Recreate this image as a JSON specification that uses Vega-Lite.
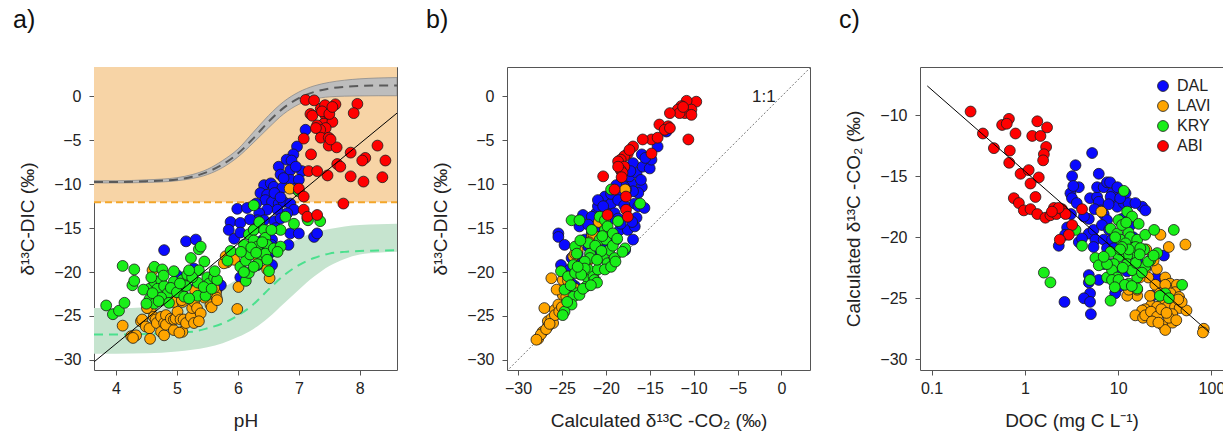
{
  "$schema": "https://vega.github.io/schema/vega-lite/v6.json",
  "padding": {"left": 12, "top": 7, "right": 0, "bottom": 0},
  "bounds": "flush",
  "spacing": 110,
  "config": {
    "font": "Liberation Sans",
    "view": {"stroke": "#555", "strokeWidth": 1},
    "title": {"font": "Liberation Sans", "fontSize": 25, "fontWeight": "normal", "anchor": "start", "frame": "group", "dx": -81, "offset": 34, "baseline": "alphabetic", "color": "#111"},
    "axis": {"grid": false, "domain": false, "labelFont": "Liberation Sans", "labelFontSize": 16, "labelColor": "#222", "titleFont": "Liberation Sans", "titleFontSize": 19, "titleFontWeight": "normal", "titleColor": "#222", "tickColor": "#555", "tickSize": 5},
    "axisX": {"labelPadding": 5, "titlePadding": 15},
    "axisY": {"labelPadding": 8, "titlePadding": 16}
  },
  "resolve": {"scale": {"color": "independent"}, "legend": {"color": "independent"}},
  "datasets": {
    "aRect": [{"x": 3.64, "x2": 8.61, "y": -12.05, "y2": 3.35}],
    "aRule": [{"x": 3.64, "x2": 8.61, "y": -12.05}],
    "grayBand": [
      {"x": 3.64, "y": -9.85, "y2": -9.6}, {"x": 4.0, "y": -9.85, "y2": -9.6}, {"x": 4.5, "y": -9.8, "y2": -9.5},
      {"x": 5.0, "y": -9.6, "y2": -9.25}, {"x": 5.25, "y": -9.35, "y2": -8.9}, {"x": 5.5, "y": -8.9, "y2": -8.3},
      {"x": 5.75, "y": -8.1, "y2": -7.3}, {"x": 6.0, "y": -6.9, "y2": -6.0}, {"x": 6.25, "y": -5.3, "y2": -4.1},
      {"x": 6.5, "y": -3.6, "y2": -2.2}, {"x": 6.75, "y": -2.0, "y2": -0.6}, {"x": 7.0, "y": -0.9, "y2": 0.5},
      {"x": 7.25, "y": -0.3, "y2": 1.2}, {"x": 7.5, "y": -0.05, "y2": 1.6}, {"x": 7.75, "y": 0.03, "y2": 1.85},
      {"x": 8.0, "y": 0.06, "y2": 2.0}, {"x": 8.3, "y": 0.08, "y2": 2.1}, {"x": 8.61, "y": 0.08, "y2": 2.15}
    ],
    "grayMid": [
      {"x": 3.64, "y": -9.75}, {"x": 4.0, "y": -9.75}, {"x": 4.5, "y": -9.65}, {"x": 5.0, "y": -9.45},
      {"x": 5.25, "y": -9.15}, {"x": 5.5, "y": -8.6}, {"x": 5.75, "y": -7.75}, {"x": 6.0, "y": -6.5},
      {"x": 6.25, "y": -4.8}, {"x": 6.5, "y": -2.9}, {"x": 6.75, "y": -1.3}, {"x": 7.0, "y": -0.2},
      {"x": 7.25, "y": 0.5}, {"x": 7.5, "y": 0.9}, {"x": 7.75, "y": 1.1}, {"x": 8.0, "y": 1.2},
      {"x": 8.3, "y": 1.25}, {"x": 8.61, "y": 1.25}
    ],
    "greenBand": [
      {"x": 3.64, "y": -29.3, "y2": -24.1}, {"x": 4.0, "y": -29.3, "y2": -24.1}, {"x": 4.5, "y": -29.25, "y2": -24.0},
      {"x": 5.0, "y": -29.05, "y2": -23.6}, {"x": 5.25, "y": -28.85, "y2": -23.2}, {"x": 5.5, "y": -28.55, "y2": -22.6},
      {"x": 5.75, "y": -28.1, "y2": -21.8}, {"x": 6.0, "y": -27.4, "y2": -20.8}, {"x": 6.25, "y": -26.5, "y2": -19.7},
      {"x": 6.5, "y": -25.2, "y2": -18.5}, {"x": 6.75, "y": -23.6, "y2": -17.2}, {"x": 7.0, "y": -22.0, "y2": -16.2},
      {"x": 7.25, "y": -20.5, "y2": -15.5}, {"x": 7.5, "y": -19.3, "y2": -15.1}, {"x": 7.75, "y": -18.5, "y2": -14.8},
      {"x": 8.0, "y": -18.0, "y2": -14.65}, {"x": 8.3, "y": -17.8, "y2": -14.55}, {"x": 8.61, "y": -17.7, "y2": -14.5}
    ],
    "greenMid": [
      {"x": 3.64, "y": -27.1}, {"x": 4.0, "y": -27.1}, {"x": 4.5, "y": -27.05}, {"x": 5.0, "y": -26.9},
      {"x": 5.25, "y": -26.8}, {"x": 5.5, "y": -26.4}, {"x": 5.75, "y": -25.85}, {"x": 6.0, "y": -24.95},
      {"x": 6.25, "y": -23.7}, {"x": 6.5, "y": -22.0}, {"x": 6.75, "y": -20.4}, {"x": 7.0, "y": -19.2},
      {"x": 7.25, "y": -18.4}, {"x": 7.5, "y": -17.9}, {"x": 7.75, "y": -17.7}, {"x": 8.0, "y": -17.6},
      {"x": 8.3, "y": -17.55}, {"x": 8.61, "y": -17.5}
    ],
    "aFit": [{"x": 3.645, "y": -30.2}, {"x": 8.61, "y": -1.9}],
    "bOne": [{"x": -31.3, "y": -31.3}, {"x": 3.3, "y": 3.3}],
    "bText": [{"x": -2.0, "y": -0.1, "t": "1:1"}],
    "cFit": [{"x": 0.09, "y": -7.6}, {"x": 95, "y": -27.8}],
    "aPts": [
      {"s":"DAL","x":7.11,"y":-3.8},{"s":"DAL","x":6.97,"y":-5.7},{"s":"DAL","x":6.91,"y":-6.6},{"s":"DAL","x":6.67,"y":-8.0},{"s":"DAL","x":6.8,"y":-7.2},{"s":"DAL","x":6.88,"y":-7.3},{"s":"DAL","x":6.7,"y":-8.9},{"s":"DAL","x":6.86,"y":-8.4},{"s":"DAL","x":7.05,"y":-8.5},{"s":"DAL","x":6.86,"y":-9.5},{"s":"DAL","x":7.0,"y":-9.5},{"s":"DAL","x":6.43,"y":-10.1},{"s":"DAL","x":6.54,"y":-9.9},{"s":"DAL","x":6.59,"y":-10.3},{"s":"DAL","x":6.73,"y":-10.4},{"s":"DAL","x":6.37,"y":-11.0},{"s":"DAL","x":6.48,"y":-11.2},{"s":"DAL","x":6.45,"y":-11.8},{"s":"DAL","x":6.56,"y":-12.0},{"s":"DAL","x":6.67,"y":-12.2},{"s":"DAL","x":6.75,"y":-12.0},{"s":"DAL","x":6.86,"y":-12.2},{"s":"DAL","x":6.92,"y":-12.9},{"s":"DAL","x":6.81,"y":-13.3},{"s":"DAL","x":6.65,"y":-12.9},{"s":"DAL","x":6.48,"y":-12.9},{"s":"DAL","x":6.35,"y":-13.3},{"s":"DAL","x":6.43,"y":-14.1},{"s":"DAL","x":6.32,"y":-14.1},{"s":"DAL","x":6.6,"y":-14.2},{"s":"DAL","x":6.7,"y":-13.9},{"s":"DAL","x":5.99,"y":-12.8},{"s":"DAL","x":6.15,"y":-12.7},{"s":"DAL","x":5.88,"y":-14.3},{"s":"DAL","x":6.04,"y":-14.4},{"s":"DAL","x":5.85,"y":-15.2},{"s":"DAL","x":5.94,"y":-16.2},{"s":"DAL","x":6.04,"y":-15.5},{"s":"DAL","x":6.48,"y":-15.5},{"s":"DAL","x":6.56,"y":-16.3},{"s":"DAL","x":6.26,"y":-15.2},{"s":"DAL","x":6.86,"y":-15.6},{"s":"DAL","x":7.0,"y":-15.6},{"s":"DAL","x":7.25,"y":-16.0},{"s":"DAL","x":7.3,"y":-15.6},{"s":"DAL","x":6.83,"y":-16.9},{"s":"DAL","x":4.79,"y":-17.5},{"s":"DAL","x":5.15,"y":-16.5},{"s":"DAL","x":5.31,"y":-16.3},{"s":"DAL","x":5.28,"y":-19.6},{"s":"DAL","x":6.56,"y":-19.2},{"s":"DAL","x":6.04,"y":-20.6},{"s":"DAL","x":5.01,"y":-20.4},{"s":"DAL","x":5.09,"y":-22.6},{"s":"DAL","x":5.65,"y":-22.0},{"s":"DAL","x":6.32,"y":-19.2},{"s":"DAL","x":6.26,"y":-17.5},{"s":"DAL","x":5.31,"y":-21.8},{"s":"DAL","x":5.72,"y":-21.5},{"s":"DAL","x":6.5,"y":-18.0},{"s":"DAL","x":6.55,"y":-16.9},{"s":"DAL","x":6.6,"y":-11.0},{"s":"DAL","x":6.3,"y":-12.2},{"s":"DAL","x":6.7,"y":-11.5},{"s":"DAL","x":6.95,"y":-10.5},{"s":"DAL","x":6.62,"y":-15.0},{"s":"DAL","x":6.42,"y":-17.0},{"s":"DAL","x":6.15,"y":-17.6},{"s":"DAL","x":6.2,"y":-14.0},{"s":"DAL","x":6.6,"y":-17.6},{"s":"DAL","x":5.6,"y":-20.8},{"s":"DAL","x":6.95,"y":-8.0},{"s":"DAL","x":6.75,"y":-9.3},{"s":"DAL","x":6.4,"y":-16.4},
      {"s":"LAVI","x":4.11,"y":-26.1},{"s":"LAVI","x":4.25,"y":-27.3},{"s":"LAVI","x":4.33,"y":-27.2},{"s":"LAVI","x":4.28,"y":-27.5},{"s":"LAVI","x":4.41,"y":-25.6},{"s":"LAVI","x":4.43,"y":-25.4},{"s":"LAVI","x":4.49,"y":-26.2},{"s":"LAVI","x":4.55,"y":-26.4},{"s":"LAVI","x":4.56,"y":-27.6},{"s":"LAVI","x":4.52,"y":-24.1},{"s":"LAVI","x":4.57,"y":-24.2},{"s":"LAVI","x":4.62,"y":-25.1},{"s":"LAVI","x":4.65,"y":-25.4},{"s":"LAVI","x":4.67,"y":-25.8},{"s":"LAVI","x":4.74,"y":-25.1},{"s":"LAVI","x":4.74,"y":-26.8},{"s":"LAVI","x":4.79,"y":-25.8},{"s":"LAVI","x":4.79,"y":-27.2},{"s":"LAVI","x":4.82,"y":-24.9},{"s":"LAVI","x":4.82,"y":-26.0},{"s":"LAVI","x":4.9,"y":-25.3},{"s":"LAVI","x":4.95,"y":-26.6},{"s":"LAVI","x":4.95,"y":-25.4},{"s":"LAVI","x":4.98,"y":-25.3},{"s":"LAVI","x":5.01,"y":-24.5},{"s":"LAVI","x":5.06,"y":-25.4},{"s":"LAVI","x":5.09,"y":-26.8},{"s":"LAVI","x":5.04,"y":-26.9},{"s":"LAVI","x":5.11,"y":-25.4},{"s":"LAVI","x":5.15,"y":-25.8},{"s":"LAVI","x":5.23,"y":-25.1},{"s":"LAVI","x":5.25,"y":-24.1},{"s":"LAVI","x":5.28,"y":-25.8},{"s":"LAVI","x":5.28,"y":-23.4},{"s":"LAVI","x":5.33,"y":-24.1},{"s":"LAVI","x":5.39,"y":-24.7},{"s":"LAVI","x":5.36,"y":-25.6},{"s":"LAVI","x":5.55,"y":-23.7},{"s":"LAVI","x":5.57,"y":-24.0},{"s":"LAVI","x":5.64,"y":-22.4},{"s":"LAVI","x":5.65,"y":-22.9},{"s":"LAVI","x":5.66,"y":-23.2},{"s":"LAVI","x":5.61,"y":-21.8},{"s":"LAVI","x":4.74,"y":-23.2},{"s":"LAVI","x":4.85,"y":-23.2},{"s":"LAVI","x":4.95,"y":-23.4},{"s":"LAVI","x":5.09,"y":-23.4},{"s":"LAVI","x":5.08,"y":-23.2},{"s":"LAVI","x":4.62,"y":-23.2},{"s":"LAVI","x":4.51,"y":-24.1},{"s":"LAVI","x":5.99,"y":-24.2},{"s":"LAVI","x":6.01,"y":-21.7},{"s":"LAVI","x":5.82,"y":-18.9},{"s":"LAVI","x":5.94,"y":-18.6},{"s":"LAVI","x":5.77,"y":-19.0},{"s":"LAVI","x":5.8,"y":-18.2},{"s":"LAVI","x":6.48,"y":-19.7},{"s":"LAVI","x":6.43,"y":-18.2},{"s":"LAVI","x":6.85,"y":-10.5},{"s":"LAVI","x":6.52,"y":-20.7},{"s":"LAVI","x":6.33,"y":-18.4},{"s":"LAVI","x":5.45,"y":-22.9},{"s":"LAVI","x":5.5,"y":-22.4},{"s":"LAVI","x":5.3,"y":-22.1},{"s":"LAVI","x":5.2,"y":-20.6},{"s":"LAVI","x":4.6,"y":-19.8},
      {"s":"KRY","x":3.84,"y":-23.8},{"s":"KRY","x":3.95,"y":-24.8},{"s":"KRY","x":4.05,"y":-24.4},{"s":"KRY","x":4.14,"y":-23.5},{"s":"KRY","x":4.11,"y":-19.3},{"s":"KRY","x":4.3,"y":-19.7},{"s":"KRY","x":4.27,"y":-21.5},{"s":"KRY","x":4.3,"y":-21.0},{"s":"KRY","x":4.55,"y":-21.9},{"s":"KRY","x":4.55,"y":-23.1},{"s":"KRY","x":4.63,"y":-23.6},{"s":"KRY","x":4.63,"y":-19.4},{"s":"KRY","x":4.76,"y":-19.7},{"s":"KRY","x":4.63,"y":-21.1},{"s":"KRY","x":4.74,"y":-20.9},{"s":"KRY","x":4.68,"y":-21.9},{"s":"KRY","x":4.79,"y":-21.6},{"s":"KRY","x":4.85,"y":-22.4},{"s":"KRY","x":4.74,"y":-22.9},{"s":"KRY","x":4.87,"y":-23.5},{"s":"KRY","x":4.95,"y":-21.1},{"s":"KRY","x":4.9,"y":-21.8},{"s":"KRY","x":5.09,"y":-20.9},{"s":"KRY","x":5.17,"y":-20.3},{"s":"KRY","x":5.06,"y":-22.0},{"s":"KRY","x":5.15,"y":-21.6},{"s":"KRY","x":5.23,"y":-18.4},{"s":"KRY","x":5.36,"y":-17.4},{"s":"KRY","x":5.39,"y":-17.1},{"s":"KRY","x":5.45,"y":-18.8},{"s":"KRY","x":5.36,"y":-19.8},{"s":"KRY","x":5.34,"y":-21.2},{"s":"KRY","x":5.34,"y":-22.7},{"s":"KRY","x":5.47,"y":-22.7},{"s":"KRY","x":5.5,"y":-20.6},{"s":"KRY","x":5.53,"y":-21.3},{"s":"KRY","x":5.61,"y":-20.6},{"s":"KRY","x":5.66,"y":-20.9},{"s":"KRY","x":5.25,"y":-20.6},{"s":"KRY","x":5.2,"y":-19.8},{"s":"KRY","x":5.83,"y":-18.7},{"s":"KRY","x":5.88,"y":-17.6},{"s":"KRY","x":6.04,"y":-19.4},{"s":"KRY","x":6.13,"y":-21.0},{"s":"KRY","x":6.18,"y":-20.1},{"s":"KRY","x":6.13,"y":-18.7},{"s":"KRY","x":6.1,"y":-16.9},{"s":"KRY","x":6.18,"y":-15.7},{"s":"KRY","x":6.26,"y":-12.4},{"s":"KRY","x":6.26,"y":-15.2},{"s":"KRY","x":6.26,"y":-16.4},{"s":"KRY","x":6.35,"y":-14.3},{"s":"KRY","x":6.32,"y":-17.1},{"s":"KRY","x":6.37,"y":-18.0},{"s":"KRY","x":6.43,"y":-15.2},{"s":"KRY","x":6.45,"y":-16.1},{"s":"KRY","x":6.48,"y":-16.9},{"s":"KRY","x":6.45,"y":-17.9},{"s":"KRY","x":6.48,"y":-18.6},{"s":"KRY","x":6.32,"y":-19.1},{"s":"KRY","x":6.26,"y":-19.4},{"s":"KRY","x":6.51,"y":-19.9},{"s":"KRY","x":6.59,"y":-17.3},{"s":"KRY","x":6.7,"y":-15.2},{"s":"KRY","x":6.78,"y":-13.7},{"s":"KRY","x":6.7,"y":-17.1},{"s":"KRY","x":6.92,"y":-14.5},{"s":"KRY","x":7.14,"y":-13.9},{"s":"KRY","x":7.35,"y":-14.2},{"s":"KRY","x":7.0,"y":-10.8},{"s":"KRY","x":7.15,"y":-14.1},{"s":"KRY","x":4.45,"y":-22.0},{"s":"KRY","x":4.6,"y":-22.4},{"s":"KRY","x":4.7,"y":-23.3},{"s":"KRY","x":4.78,"y":-20.4},{"s":"KRY","x":5.0,"y":-22.3},{"s":"KRY","x":5.12,"y":-22.8},{"s":"KRY","x":5.2,"y":-23.0},{"s":"KRY","x":5.44,"y":-21.7},{"s":"KRY","x":5.57,"y":-21.9},{"s":"KRY","x":5.62,"y":-19.9},{"s":"KRY","x":4.95,"y":-19.9},{"s":"KRY","x":4.5,"y":-23.6},{"s":"KRY","x":4.58,"y":-20.6},{"s":"KRY","x":5.05,"y":-21.3},{"s":"KRY","x":6.2,"y":-18.0},{"s":"KRY","x":6.1,"y":-20.0},{"s":"KRY","x":6.05,"y":-17.7},{"s":"KRY","x":6.65,"y":-17.7},{"s":"KRY","x":6.4,"y":-16.6},{"s":"KRY","x":6.55,"y":-15.2},{"s":"KRY","x":6.22,"y":-17.2},{"s":"KRY","x":6.3,"y":-17.8},
      {"s":"ABI","x":7.11,"y":-0.4},{"s":"ABI","x":7.25,"y":-0.45},{"s":"ABI","x":7.36,"y":-1.4},{"s":"ABI","x":7.43,"y":-1.0},{"s":"ABI","x":7.6,"y":-0.9},{"s":"ABI","x":7.96,"y":-0.85},{"s":"ABI","x":7.9,"y":-1.9},{"s":"ABI","x":7.19,"y":-2.0},{"s":"ABI","x":7.22,"y":-2.2},{"s":"ABI","x":7.44,"y":-2.2},{"s":"ABI","x":7.49,"y":-2.8},{"s":"ABI","x":7.41,"y":-3.1},{"s":"ABI","x":7.55,"y":-2.9},{"s":"ABI","x":7.3,"y":-3.3},{"s":"ABI","x":7.44,"y":-3.6},{"s":"ABI","x":7.35,"y":-3.8},{"s":"ABI","x":7.28,"y":-3.6},{"s":"ABI","x":7.36,"y":-4.7},{"s":"ABI","x":7.49,"y":-4.7},{"s":"ABI","x":7.08,"y":-4.8},{"s":"ABI","x":7.49,"y":-5.6},{"s":"ABI","x":7.62,"y":-5.8},{"s":"ABI","x":7.2,"y":-6.6},{"s":"ABI","x":7.16,"y":-8.5},{"s":"ABI","x":7.3,"y":-8.5},{"s":"ABI","x":7.47,"y":-9.0},{"s":"ABI","x":7.63,"y":-7.7},{"s":"ABI","x":7.68,"y":-8.0},{"s":"ABI","x":7.85,"y":-6.4},{"s":"ABI","x":8.09,"y":-7.0},{"s":"ABI","x":8.04,"y":-7.3},{"s":"ABI","x":8.29,"y":-5.6},{"s":"ABI","x":8.42,"y":-7.3},{"s":"ABI","x":7.85,"y":-9.1},{"s":"ABI","x":8.06,"y":-9.7},{"s":"ABI","x":8.37,"y":-9.2},{"s":"ABI","x":7.0,"y":-10.5},{"s":"ABI","x":7.08,"y":-11.4},{"s":"ABI","x":7.73,"y":-12.2},{"s":"ABI","x":7.08,"y":-12.9},{"s":"ABI","x":7.14,"y":-13.7},{"s":"ABI","x":7.3,"y":-13.5},{"s":"ABI","x":7.52,"y":-4.9},{"s":"ABI","x":7.38,"y":-1.7},{"s":"ABI","x":7.5,"y":-2.0},{"s":"ABI","x":7.55,"y":-1.2}
    ],
    "bPts": [
      {"s":"DAL","x":-25.4,"y":-15.6},{"s":"DAL","x":-25.4,"y":-16.0},{"s":"DAL","x":-24.7,"y":-16.9},{"s":"DAL","x":-23.9,"y":-18.4},{"s":"DAL","x":-25.1,"y":-19.2},{"s":"DAL","x":-24.1,"y":-19.7},{"s":"DAL","x":-23.5,"y":-21.6},{"s":"DAL","x":-22.6,"y":-13.5},{"s":"DAL","x":-23.2,"y":-14.2},{"s":"DAL","x":-23.0,"y":-14.8},{"s":"DAL","x":-22.4,"y":-16.3},{"s":"DAL","x":-21.6,"y":-15.6},{"s":"DAL","x":-21.1,"y":-13.3},{"s":"DAL","x":-20.9,"y":-12.5},{"s":"DAL","x":-20.1,"y":-11.4},{"s":"DAL","x":-19.9,"y":-12.5},{"s":"DAL","x":-19.4,"y":-12.2},{"s":"DAL","x":-19.0,"y":-13.3},{"s":"DAL","x":-19.8,"y":-13.7},{"s":"DAL","x":-20.5,"y":-14.8},{"s":"DAL","x":-18.6,"y":-13.9},{"s":"DAL","x":-18.4,"y":-15.2},{"s":"DAL","x":-19.4,"y":-16.3},{"s":"DAL","x":-18.8,"y":-16.3},{"s":"DAL","x":-17.8,"y":-17.5},{"s":"DAL","x":-17.5,"y":-15.2},{"s":"DAL","x":-16.7,"y":-14.8},{"s":"DAL","x":-16.9,"y":-16.3},{"s":"DAL","x":-16.7,"y":-12.2},{"s":"DAL","x":-16.3,"y":-12.5},{"s":"DAL","x":-15.6,"y":-12.7},{"s":"DAL","x":-15.9,"y":-10.3},{"s":"DAL","x":-16.3,"y":-11.0},{"s":"DAL","x":-17.1,"y":-9.9},{"s":"DAL","x":-16.9,"y":-10.8},{"s":"DAL","x":-17.3,"y":-9.1},{"s":"DAL","x":-16.5,"y":-8.7},{"s":"DAL","x":-16.9,"y":-7.6},{"s":"DAL","x":-15.9,"y":-6.6},{"s":"DAL","x":-15.8,"y":-8.0},{"s":"DAL","x":-15.0,"y":-8.2},{"s":"DAL","x":-14.8,"y":-7.2},{"s":"DAL","x":-14.1,"y":-5.7},{"s":"DAL","x":-13.1,"y":-4.0},{"s":"DAL","x":-18.2,"y":-9.7},{"s":"DAL","x":-17.9,"y":-10.3},{"s":"DAL","x":-17.7,"y":-10.6},{"s":"DAL","x":-18.6,"y":-11.0},{"s":"DAL","x":-19.4,"y":-11.1},{"s":"DAL","x":-18.6,"y":-11.8},{"s":"DAL","x":-17.9,"y":-12.4},{"s":"DAL","x":-20.9,"y":-11.8},{"s":"DAL","x":-20.3,"y":-12.5},{"s":"DAL","x":-21.6,"y":-13.7},{"s":"DAL","x":-21.3,"y":-15.2},{"s":"DAL","x":-20.9,"y":-16.0},{"s":"DAL","x":-22.0,"y":-17.1},{"s":"DAL","x":-23.2,"y":-17.9},{"s":"DAL","x":-23.9,"y":-21.3},{"s":"DAL","x":-22.7,"y":-19.0},{"s":"DAL","x":-21.5,"y":-18.0},{"s":"DAL","x":-20.0,"y":-17.3},{"s":"DAL","x":-18.3,"y":-14.5},{"s":"DAL","x":-16.5,"y":-13.8},{"s":"DAL","x":-17.0,"y":-14.3},{"s":"DAL","x":-22.0,"y":-14.6},{"s":"DAL","x":-19.6,"y":-14.0},{"s":"DAL","x":-17.2,"y":-8.5},{"s":"DAL","x":-16.0,"y":-9.5},{"s":"DAL","x":-15.5,"y":-7.0},{"s":"DAL","x":-18.8,"y":-10.1},{"s":"DAL","x":-21.2,"y":-17.2},{"s":"DAL","x":-24.5,"y":-20.5},
      {"s":"LAVI","x":-27.7,"y":-27.6},{"s":"LAVI","x":-27.2,"y":-26.8},{"s":"LAVI","x":-27.4,"y":-27.1},{"s":"LAVI","x":-26.6,"y":-25.6},{"s":"LAVI","x":-26.2,"y":-25.3},{"s":"LAVI","x":-27.0,"y":-24.1},{"s":"LAVI","x":-26.2,"y":-20.7},{"s":"LAVI","x":-25.8,"y":-24.3},{"s":"LAVI","x":-25.4,"y":-23.7},{"s":"LAVI","x":-24.9,"y":-22.6},{"s":"LAVI","x":-24.7,"y":-21.8},{"s":"LAVI","x":-24.9,"y":-20.9},{"s":"LAVI","x":-24.3,"y":-20.5},{"s":"LAVI","x":-24.1,"y":-23.2},{"s":"LAVI","x":-23.5,"y":-21.9},{"s":"LAVI","x":-24.3,"y":-21.0},{"s":"LAVI","x":-23.7,"y":-18.2},{"s":"LAVI","x":-23.5,"y":-17.9},{"s":"LAVI","x":-23.2,"y":-17.5},{"s":"LAVI","x":-21.6,"y":-16.0},{"s":"LAVI","x":-21.4,"y":-15.8},{"s":"LAVI","x":-17.8,"y":-10.6},{"s":"LAVI","x":-26.6,"y":-26.2},{"s":"LAVI","x":-26.0,"y":-25.8},{"s":"LAVI","x":-25.8,"y":-24.9},{"s":"LAVI","x":-25.3,"y":-24.5},{"s":"LAVI","x":-22.0,"y":-18.7},{"s":"LAVI","x":-25.6,"y":-22.0},{"s":"LAVI","x":-26.8,"y":-26.5},{"s":"LAVI","x":-25.0,"y":-24.0},{"s":"LAVI","x":-24.5,"y":-22.8},{"s":"LAVI","x":-23.0,"y":-20.2},{"s":"LAVI","x":-22.5,"y":-19.0},{"s":"LAVI","x":-27.9,"y":-27.7},{"s":"LAVI","x":-26.4,"y":-25.9},{"s":"LAVI","x":-21.9,"y":-16.6},{"s":"LAVI","x":-20.8,"y":-14.3},
      {"s":"KRY","x":-25.1,"y":-19.9},{"s":"KRY","x":-24.7,"y":-22.0},{"s":"KRY","x":-23.9,"y":-14.1},{"s":"KRY","x":-23.0,"y":-14.1},{"s":"KRY","x":-23.5,"y":-17.1},{"s":"KRY","x":-23.3,"y":-17.9},{"s":"KRY","x":-23.7,"y":-19.2},{"s":"KRY","x":-24.3,"y":-20.5},{"s":"KRY","x":-23.5,"y":-20.1},{"s":"KRY","x":-23.4,"y":-22.4},{"s":"KRY","x":-23.7,"y":-22.8},{"s":"KRY","x":-23.0,"y":-22.6},{"s":"KRY","x":-23.9,"y":-23.7},{"s":"KRY","x":-24.7,"y":-24.5},{"s":"KRY","x":-24.9,"y":-24.9},{"s":"KRY","x":-22.2,"y":-21.6},{"s":"KRY","x":-22.2,"y":-20.5},{"s":"KRY","x":-22.0,"y":-16.7},{"s":"KRY","x":-21.8,"y":-17.9},{"s":"KRY","x":-21.6,"y":-15.2},{"s":"KRY","x":-21.8,"y":-18.4},{"s":"KRY","x":-22.0,"y":-19.7},{"s":"KRY","x":-21.4,"y":-20.5},{"s":"KRY","x":-21.3,"y":-20.9},{"s":"KRY","x":-21.0,"y":-21.2},{"s":"KRY","x":-20.9,"y":-19.7},{"s":"KRY","x":-20.7,"y":-16.3},{"s":"KRY","x":-20.7,"y":-13.7},{"s":"KRY","x":-20.1,"y":-15.2},{"s":"KRY","x":-20.1,"y":-14.1},{"s":"KRY","x":-19.8,"y":-14.8},{"s":"KRY","x":-20.0,"y":-16.3},{"s":"KRY","x":-19.6,"y":-17.5},{"s":"KRY","x":-20.3,"y":-18.4},{"s":"KRY","x":-19.8,"y":-19.0},{"s":"KRY","x":-20.1,"y":-19.7},{"s":"KRY","x":-19.4,"y":-19.4},{"s":"KRY","x":-19.0,"y":-18.4},{"s":"KRY","x":-19.2,"y":-15.6},{"s":"KRY","x":-18.6,"y":-14.2},{"s":"KRY","x":-17.8,"y":-17.3},{"s":"KRY","x":-16.1,"y":-12.2},{"s":"KRY","x":-19.4,"y":-10.6},{"s":"KRY","x":-18.1,"y":-17.7},{"s":"KRY","x":-22.4,"y":-18.8},{"s":"KRY","x":-22.4,"y":-19.6},{"s":"KRY","x":-22.6,"y":-21.9},{"s":"KRY","x":-21.7,"y":-21.5},{"s":"KRY","x":-22.9,"y":-16.4},{"s":"KRY","x":-21.2,"y":-17.0},{"s":"KRY","x":-24.4,"y":-23.4},{"s":"KRY","x":-20.5,"y":-17.6},{"s":"KRY","x":-19.2,"y":-17.0},{"s":"KRY","x":-18.7,"y":-16.2},{"s":"KRY","x":-21.0,"y":-18.6},{"s":"KRY","x":-22.8,"y":-20.3},{"s":"KRY","x":-23.2,"y":-19.4},{"s":"KRY","x":-24.0,"y":-21.5},{"s":"KRY","x":-20.4,"y":-15.9},{"s":"KRY","x":-18.9,"y":-18.8},
      {"s":"ABI","x":-9.7,"y":-0.6},{"s":"ABI","x":-10.8,"y":-0.5},{"s":"ABI","x":-10.25,"y":-1.5},{"s":"ABI","x":-11.4,"y":-1.1},{"s":"ABI","x":-11.8,"y":-1.5},{"s":"ABI","x":-11.0,"y":-1.9},{"s":"ABI","x":-11.6,"y":-1.9},{"s":"ABI","x":-12.7,"y":-1.9},{"s":"ABI","x":-10.25,"y":-2.1},{"s":"ABI","x":-11.2,"y":-1.2},{"s":"ABI","x":-13.9,"y":-3.2},{"s":"ABI","x":-12.9,"y":-3.4},{"s":"ABI","x":-13.3,"y":-3.8},{"s":"ABI","x":-12.7,"y":-3.6},{"s":"ABI","x":-10.6,"y":-4.9},{"s":"ABI","x":-14.8,"y":-4.9},{"s":"ABI","x":-14.1,"y":-4.7},{"s":"ABI","x":-15.8,"y":-4.9},{"s":"ABI","x":-14.8,"y":-6.5},{"s":"ABI","x":-16.9,"y":-5.7},{"s":"ABI","x":-17.5,"y":-6.5},{"s":"ABI","x":-17.9,"y":-6.8},{"s":"ABI","x":-18.3,"y":-7.2},{"s":"ABI","x":-18.6,"y":-7.4},{"s":"ABI","x":-17.9,"y":-8.0},{"s":"ABI","x":-18.3,"y":-8.4},{"s":"ABI","x":-20.3,"y":-9.1},{"s":"ABI","x":-19.0,"y":-10.6},{"s":"ABI","x":-17.7,"y":-11.4},{"s":"ABI","x":-17.7,"y":-12.9},{"s":"ABI","x":-17.5,"y":-13.7},{"s":"ABI","x":-19.8,"y":-13.5},{"s":"ABI","x":-18.1,"y":-8.7},{"s":"ABI","x":-18.6,"y":-8.0},{"s":"ABI","x":-18.2,"y":-9.2},{"s":"ABI","x":-17.3,"y":-6.1}
    ],
    "cPts": [
      {"s":"DAL","x":5.26,"y":-13.1},{"s":"DAL","x":3.49,"y":-14.1},{"s":"DAL","x":3.21,"y":-15.0},{"s":"DAL","x":3.79,"y":-15.9},{"s":"DAL","x":3.08,"y":-16.4},{"s":"DAL","x":3.2,"y":-16.8},{"s":"DAL","x":3.6,"y":-17.2},{"s":"DAL","x":3.12,"y":-18.1},{"s":"DAL","x":3.29,"y":-19.2},{"s":"DAL","x":2.84,"y":-19.2},{"s":"DAL","x":2.31,"y":-20.7},{"s":"DAL","x":2.7,"y":-19.8},{"s":"DAL","x":3.79,"y":-20.4},{"s":"DAL","x":4.85,"y":-19.7},{"s":"DAL","x":5.45,"y":-19.4},{"s":"DAL","x":4.85,"y":-18.5},{"s":"DAL","x":5.0,"y":-16.8},{"s":"DAL","x":5.95,"y":-16.7},{"s":"DAL","x":6.2,"y":-17.1},{"s":"DAL","x":5.95,"y":-15.9},{"s":"DAL","x":6.2,"y":-14.8},{"s":"DAL","x":7.0,"y":-15.9},{"s":"DAL","x":7.6,"y":-15.5},{"s":"DAL","x":8.6,"y":-16.4},{"s":"DAL","x":8.2,"y":-15.5},{"s":"DAL","x":9.3,"y":-17.0},{"s":"DAL","x":9.8,"y":-17.5},{"s":"DAL","x":11.5,"y":-17.2},{"s":"DAL","x":12.0,"y":-16.4},{"s":"DAL","x":12.9,"y":-17.2},{"s":"DAL","x":9.8,"y":-15.9},{"s":"DAL","x":8.3,"y":-16.7},{"s":"DAL","x":7.0,"y":-18.1},{"s":"DAL","x":7.6,"y":-18.6},{"s":"DAL","x":6.7,"y":-19.0},{"s":"DAL","x":5.7,"y":-20.2},{"s":"DAL","x":7.0,"y":-20.2},{"s":"DAL","x":5.45,"y":-20.8},{"s":"DAL","x":7.6,"y":-20.9},{"s":"DAL","x":8.6,"y":-20.2},{"s":"DAL","x":9.0,"y":-20.9},{"s":"DAL","x":10.1,"y":-21.6},{"s":"DAL","x":7.0,"y":-22.2},{"s":"DAL","x":8.3,"y":-22.2},{"s":"DAL","x":6.2,"y":-23.5},{"s":"DAL","x":4.85,"y":-23.1},{"s":"DAL","x":4.85,"y":-23.7},{"s":"DAL","x":5.0,"y":-24.6},{"s":"DAL","x":4.3,"y":-25.0},{"s":"DAL","x":5.0,"y":-25.3},{"s":"DAL","x":5.1,"y":-26.3},{"s":"DAL","x":2.66,"y":-25.3},{"s":"DAL","x":18.1,"y":-17.5},{"s":"DAL","x":19.6,"y":-17.8},{"s":"DAL","x":15.3,"y":-17.2},{"s":"DAL","x":30.9,"y":-21.5},{"s":"DAL","x":13.5,"y":-20.8},{"s":"DAL","x":23.1,"y":-24.8},{"s":"DAL","x":32,"y":-23.7},{"s":"DAL","x":10.1,"y":-24.1},{"s":"DAL","x":12.5,"y":-22.8},{"s":"DAL","x":9.3,"y":-24.6},{"s":"DAL","x":4.3,"y":-18.3},{"s":"DAL","x":4.1,"y":-20.1},{"s":"DAL","x":6.5,"y":-17.8},{"s":"DAL","x":11.0,"y":-18.5},{"s":"DAL","x":13.6,"y":-19.0},{"s":"DAL","x":8.0,"y":-19.4},{"s":"DAL","x":14.5,"y":-20.0},{"s":"DAL","x":16.0,"y":-21.9},{"s":"DAL","x":25.8,"y":-23.3},{"s":"DAL","x":9.5,"y":-23.1},{"s":"DAL","x":5.6,"y":-17.7},{"s":"DAL","x":10.5,"y":-16.8},{"s":"DAL","x":7.9,"y":-17.3},{"s":"DAL","x":3.3,"y":-15.8},
      {"s":"LAVI","x":6.6,"y":-17.9},{"s":"LAVI","x":28.4,"y":-19.8},{"s":"LAVI","x":34.9,"y":-20.8},{"s":"LAVI","x":52.6,"y":-20.6},{"s":"LAVI","x":19.5,"y":-22.6},{"s":"LAVI","x":21,"y":-23.3},{"s":"LAVI","x":32,"y":-23.3},{"s":"LAVI","x":36,"y":-23.8},{"s":"LAVI","x":42.6,"y":-23.9},{"s":"LAVI","x":40.7,"y":-24.5},{"s":"LAVI","x":36.4,"y":-24.6},{"s":"LAVI","x":30,"y":-25.3},{"s":"LAVI","x":33.5,"y":-25.7},{"s":"LAVI","x":40.7,"y":-25.7},{"s":"LAVI","x":45.6,"y":-25.8},{"s":"LAVI","x":54,"y":-26.0},{"s":"LAVI","x":22.5,"y":-25.6},{"s":"LAVI","x":26.2,"y":-25.7},{"s":"LAVI","x":19.5,"y":-25.9},{"s":"LAVI","x":18.1,"y":-26.0},{"s":"LAVI","x":15.3,"y":-26.4},{"s":"LAVI","x":18.5,"y":-26.6},{"s":"LAVI","x":19.5,"y":-26.4},{"s":"LAVI","x":22.5,"y":-26.1},{"s":"LAVI","x":26.2,"y":-26.5},{"s":"LAVI","x":23.1,"y":-26.9},{"s":"LAVI","x":30,"y":-27.2},{"s":"LAVI","x":32,"y":-27.6},{"s":"LAVI","x":38.3,"y":-27.0},{"s":"LAVI","x":82.8,"y":-27.5},{"s":"LAVI","x":81,"y":-27.8},{"s":"LAVI","x":22,"y":-24.8},{"s":"LAVI","x":16,"y":-24.8},{"s":"LAVI","x":12.5,"y":-24.8},{"s":"LAVI","x":13,"y":-24.3},{"s":"LAVI","x":16,"y":-24.3},{"s":"LAVI","x":25,"y":-23.9},{"s":"LAVI","x":32,"y":-23.9},{"s":"LAVI","x":45,"y":-24.9},{"s":"LAVI","x":48,"y":-25.3},{"s":"LAVI","x":28,"y":-24.6},{"s":"LAVI","x":38,"y":-26.3},{"s":"LAVI","x":29,"y":-25.9},{"s":"LAVI","x":35,"y":-26.6},{"s":"LAVI","x":44,"y":-25.1},{"s":"LAVI","x":26,"y":-22.6},{"s":"LAVI","x":20,"y":-21.0},{"s":"LAVI","x":24,"y":-21.9},{"s":"LAVI","x":17,"y":-23.3},{"s":"LAVI","x":33,"y":-26.2},{"s":"LAVI","x":42,"y":-26.8},{"s":"LAVI","x":27,"y":-27.0},
      {"s":"KRY","x":1.6,"y":-22.9},{"s":"KRY","x":1.88,"y":-23.7},{"s":"KRY","x":4.1,"y":-20.7},{"s":"KRY","x":3.49,"y":-19.4},{"s":"KRY","x":5.7,"y":-21.7},{"s":"KRY","x":6.2,"y":-22.3},{"s":"KRY","x":5.0,"y":-23.5},{"s":"KRY","x":7.6,"y":-23.3},{"s":"KRY","x":8.3,"y":-25.2},{"s":"KRY","x":11.5,"y":-16.2},{"s":"KRY","x":12.5,"y":-17.9},{"s":"KRY","x":14.1,"y":-18.3},{"s":"KRY","x":16.6,"y":-18.9},{"s":"KRY","x":8.3,"y":-19.3},{"s":"KRY","x":10.1,"y":-18.6},{"s":"KRY","x":9.8,"y":-19.7},{"s":"KRY","x":10.6,"y":-20.2},{"s":"KRY","x":9.3,"y":-20.0},{"s":"KRY","x":12.9,"y":-19.6},{"s":"KRY","x":13.5,"y":-20.0},{"s":"KRY","x":12,"y":-20.5},{"s":"KRY","x":16.0,"y":-20.2},{"s":"KRY","x":19.5,"y":-19.8},{"s":"KRY","x":24.3,"y":-19.4},{"s":"KRY","x":39.5,"y":-19.4},{"s":"KRY","x":14.7,"y":-21.3},{"s":"KRY","x":12.5,"y":-21.5},{"s":"KRY","x":10.1,"y":-21.6},{"s":"KRY","x":8.3,"y":-21.2},{"s":"KRY","x":9.0,"y":-22.2},{"s":"KRY","x":8.6,"y":-22.7},{"s":"KRY","x":9.8,"y":-23.3},{"s":"KRY","x":8.6,"y":-23.5},{"s":"KRY","x":10.1,"y":-23.5},{"s":"KRY","x":13.0,"y":-23.8},{"s":"KRY","x":16.0,"y":-23.3},{"s":"KRY","x":16.0,"y":-24.2},{"s":"KRY","x":19.5,"y":-22.4},{"s":"KRY","x":22,"y":-21.9},{"s":"KRY","x":26.2,"y":-21.3},{"s":"KRY","x":19,"y":-21.0},{"s":"KRY","x":21,"y":-22.0},{"s":"KRY","x":32,"y":-24.6},{"s":"KRY","x":48.5,"y":-23.9},{"s":"KRY","x":7.6,"y":-22.2},{"s":"KRY","x":7.0,"y":-21.6},{"s":"KRY","x":15.3,"y":-20.8},{"s":"KRY","x":17.3,"y":-20.9},{"s":"KRY","x":12.5,"y":-22.2},{"s":"KRY","x":14.1,"y":-22.7},{"s":"KRY","x":11.2,"y":-22.5},{"s":"KRY","x":15.5,"y":-22.1},{"s":"KRY","x":11,"y":-19.0},{"s":"KRY","x":13,"y":-21.0},{"s":"KRY","x":18,"y":-22.9},{"s":"KRY","x":11.8,"y":-23.9},{"s":"KRY","x":24,"y":-21.5},{"s":"KRY","x":28,"y":-24.8},{"s":"KRY","x":35,"y":-25.0},{"s":"KRY","x":9.2,"y":-24.1},{"s":"KRY","x":14.0,"y":-24.0},{"s":"KRY","x":11,"y":-20.8},{"s":"KRY","x":12.2,"y":-18.8},{"s":"KRY","x":17,"y":-21.4},{"s":"KRY","x":10.5,"y":-21.0},
      {"s":"ABI","x":0.262,"y":-9.7},{"s":"ABI","x":0.355,"y":-11.5},{"s":"ABI","x":0.466,"y":-12.7},{"s":"ABI","x":0.571,"y":-10.8},{"s":"ABI","x":0.675,"y":-10.3},{"s":"ABI","x":0.64,"y":-10.7},{"s":"ABI","x":0.794,"y":-11.5},{"s":"ABI","x":0.69,"y":-12.9},{"s":"ABI","x":0.68,"y":-13.9},{"s":"ABI","x":0.9,"y":-14.8},{"s":"ABI","x":1.1,"y":-14.5},{"s":"ABI","x":1.15,"y":-15.6},{"s":"ABI","x":1.36,"y":-10.5},{"s":"ABI","x":1.2,"y":-11.7},{"s":"ABI","x":1.47,"y":-11.7},{"s":"ABI","x":1.73,"y":-11.0},{"s":"ABI","x":1.69,"y":-12.6},{"s":"ABI","x":1.6,"y":-13.2},{"s":"ABI","x":1.57,"y":-13.7},{"s":"ABI","x":1.41,"y":-15.1},{"s":"ABI","x":1.3,"y":-16.7},{"s":"ABI","x":0.762,"y":-16.8},{"s":"ABI","x":0.863,"y":-17.2},{"s":"ABI","x":0.975,"y":-17.8},{"s":"ABI","x":1.15,"y":-17.7},{"s":"ABI","x":1.36,"y":-18.1},{"s":"ABI","x":1.66,"y":-18.4},{"s":"ABI","x":1.88,"y":-18.2},{"s":"ABI","x":2.05,"y":-17.6},{"s":"ABI","x":2.18,"y":-18.1},{"s":"ABI","x":2.5,"y":-17.7},{"s":"ABI","x":2.73,"y":-18.1},{"s":"ABI","x":4.1,"y":-17.7},{"s":"ABI","x":3.21,"y":-19.0},{"s":"ABI","x":2.96,"y":-19.8},{"s":"ABI","x":2.37,"y":-20.2},{"s":"ABI","x":2.3,"y":-17.6},{"s":"ABI","x":1.95,"y":-17.9}
    ]
  },
  "hconcat": [
    {
      "width": 303, "height": 303,
      "title": "a)",
      "encoding": {
        "x": {"field": "x", "type": "quantitative", "title": "pH", "scale": {"domain": [3.64, 8.61], "nice": false, "zero": false}, "axis": {"values": [4, 5, 6, 7, 8]}},
        "y": {"field": "y", "type": "quantitative", "title": "δ¹³C-DIC (‰)", "scale": {"domain": [-31.15, 3.35], "nice": false, "zero": false}, "axis": {"values": [-30, -25, -20, -15, -10, -5, 0]}}
      },
      "layer": [
        {"data": {"name": "aRect"}, "mark": {"type": "rect", "color": "#F7D4A6", "clip": true}, "encoding": {"x2": {"field": "x2"}, "y2": {"field": "y2"}}},
        {"data": {"name": "grayBand"}, "mark": {"type": "area", "color": "#BDBDBD", "opacity": 1, "stroke": "#8c8c8c", "strokeWidth": 0.8, "interpolate": "monotone", "clip": true}, "encoding": {"y2": {"field": "y2"}}},
        {"data": {"name": "grayMid"}, "mark": {"type": "line", "color": "#5a5a5a", "strokeWidth": 2, "strokeDash": [9, 6], "interpolate": "monotone", "clip": true}},
        {"data": {"name": "greenBand"}, "mark": {"type": "area", "color": "#C6E4CF", "opacity": 1, "interpolate": "monotone", "clip": true}, "encoding": {"y2": {"field": "y2"}}},
        {"data": {"name": "greenMid"}, "mark": {"type": "line", "color": "#4BE08E", "strokeWidth": 2, "strokeDash": [9, 6], "interpolate": "monotone", "clip": true}},
        {"data": {"name": "aRule"}, "mark": {"type": "rule", "color": "#F4A62A", "strokeWidth": 2, "strokeDash": [7, 4], "clip": true}, "encoding": {"x2": {"field": "x2"}}},
        {"data": {"name": "aPts"}, "mark": {"type": "circle", "size": 118, "opacity": 1, "stroke": "#1a1a1a", "strokeWidth": 0.8},
         "encoding": {"color": {"field": "s", "type": "nominal", "scale": {"domain": ["DAL", "LAVI", "KRY", "ABI"], "range": ["#0a0aff", "#FFA500", "#19EE19", "#FF0000"]}, "legend": null}}},
        {"data": {"name": "aFit"}, "mark": {"type": "line", "color": "#000", "strokeWidth": 1, "clip": true}}
      ]
    },
    {
      "width": 303, "height": 303,
      "title": "b)",
      "encoding": {
        "x": {"field": "x", "type": "quantitative", "title": "Calculated δ¹³C -CO₂ (‰)", "scale": {"domain": [-31.25, 3.25], "nice": false, "zero": false}, "axis": {"values": [-30, -25, -20, -15, -10, -5, 0]}},
        "y": {"field": "y", "type": "quantitative", "title": "δ¹³C-DIC (‰)", "scale": {"domain": [-31.15, 3.35], "nice": false, "zero": false}, "axis": {"values": [-30, -25, -20, -15, -10, -5, 0]}}
      },
      "layer": [
        {"data": {"name": "bOne"}, "mark": {"type": "line", "color": "#777", "strokeWidth": 1, "strokeDash": [2, 2], "clip": true}},
        {"data": {"name": "bText"}, "mark": {"type": "text", "fontSize": 17, "color": "#222", "font": "Liberation Sans"}, "encoding": {"text": {"field": "t"}}},
        {"data": {"name": "bPts"}, "mark": {"type": "circle", "size": 118, "opacity": 1, "stroke": "#1a1a1a", "strokeWidth": 0.8},
         "encoding": {"color": {"field": "s", "type": "nominal", "scale": {"domain": ["DAL", "LAVI", "KRY", "ABI"], "range": ["#0a0aff", "#FFA500", "#19EE19", "#FF0000"]}, "legend": null}}}
      ]
    },
    {
      "width": 303, "height": 303,
      "title": "c)",
      "encoding": {
        "x": {"field": "x", "type": "quantitative", "title": "DOC (mg C L⁻¹)", "scale": {"type": "log", "domain": [0.0752, 133], "nice": false}, "axis": {"values": [0.1, 1, 10, 100], "format": "~g"}},
        "y": {"field": "y", "type": "quantitative", "title": "Calculated δ¹³C -CO₂ (‰)", "scale": {"domain": [-30.88, -6.05], "nice": false, "zero": false}, "axis": {"values": [-30, -25, -20, -15, -10]}}
      },
      "layer": [
        {"data": {"name": "cPts"}, "mark": {"type": "circle", "size": 118, "opacity": 1, "stroke": "#1a1a1a", "strokeWidth": 0.8},
         "encoding": {"color": {"field": "s", "type": "nominal", "scale": {"domain": ["DAL", "LAVI", "KRY", "ABI"], "range": ["#0a0aff", "#FFA500", "#19EE19", "#FF0000"]},
           "legend": {"title": null, "orient": "none", "legendX": 235, "legendY": 11, "padding": 0, "labelFontSize": 16, "labelFont": "Liberation Sans", "labelColor": "#222", "labelOffset": 6, "symbolType": "circle", "symbolSize": 118, "symbolStrokeColor": "#1a1a1a", "symbolStrokeWidth": 0.8, "rowPadding": 4}}}},
        {"data": {"name": "cFit"}, "mark": {"type": "line", "color": "#000", "strokeWidth": 1, "clip": true}}
      ]
    }
  ]
}
